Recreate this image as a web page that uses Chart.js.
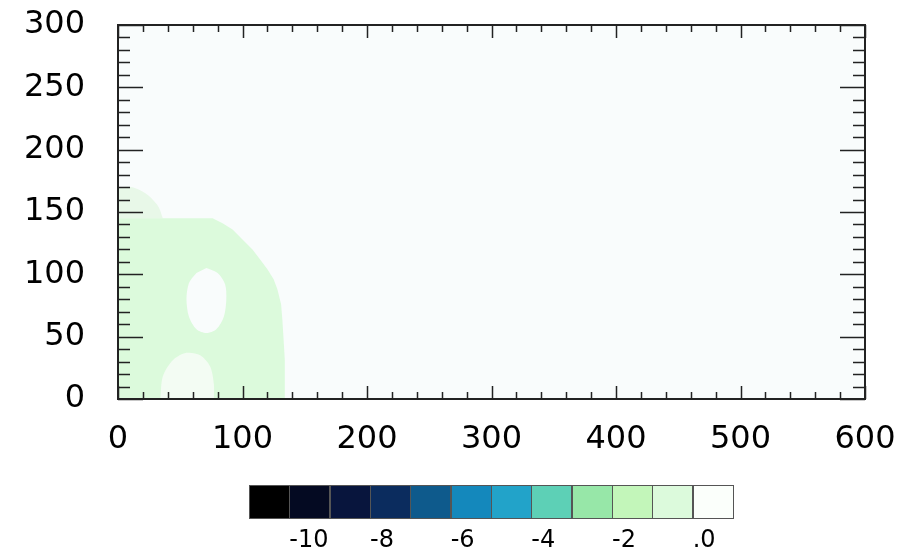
<!DOCTYPE html>
<html>
<head>
<meta charset="utf-8">
<script src="https://cdn.jsdelivr.net/npm/chart.js"></script>
<style>
    html, body { margin: 0; padding: 0; background: #ffffff; }
    #wrap { width: 911px; height: 555px; position: relative; }
</style>
</head>
<body>
<div id="wrap"><canvas id="campo"></canvas></div>
<script>
// Ejes
const xTicks = [0, 100, 200, 300, 400, 500, 600];
const yTicks = [0, 50, 100, 150, 200, 250, 300];

// Escala de colores (12 niveles) y etiquetas de la barra
const levelColors = ['#000000', '#040a22', '#08153d', '#0b2c5e', '#0e5a8c', '#1488bc',
                     '#22a3c9', '#5dd0b6', '#97e7a8', '#c3f6ba', '#dcfadc', '#fbfffb'];
const levelLabels = ['-10', '-8', '-6', '-4', '-2', '.0'];

// Región verde (nivel -1..0)
const regionX = [0, 0, 76, 84, 92, 100, 108, 114, 120, 125, 128, 131, 132, 133, 134, 134];
const regionY = [0, 145, 145, 141, 136, 128, 120, 112, 104, 96, 88, 76, 64, 48, 31, 0];

// Franja tenue sobre la región
const stripX = [0, 0, 10, 22, 32, 36];
const stripY = [145, 168, 170, 165, 155, 145];

// Huecos blancos dentro de la región
const holeX = [71, 80, 86, 87, 85, 79, 71, 63, 57, 55, 57, 63];
const holeY = [105, 101, 92, 80, 66, 56, 53, 56, 66, 80, 93, 101];
const lowHoleX = [34, 36, 44, 55, 66, 74, 77, 77];
const lowHoleY = [0, 18, 31, 37, 35, 26, 12, 0];

const plotBg = '#f9fcfc';

function toPoints(xs, ys) {
    return xs.map((x, i) => ({ x: x, y: ys[i] }));
}

function polygon(xs, ys, color, order, tension) {
    return {
        data: toPoints(xs, ys),
        showLine: true,
        fill: 'shape',
        backgroundColor: color,
        borderWidth: 0,
        borderColor: 'rgba(0,0,0,0)',
        pointRadius: 0,
        tension: tension,
        order: order
    };
}

// Fondo, marco, marcas interiores y barra de colores
const decoPlugin = {
    id: 'deco',
    beforeDraw(chart) {
        const ctx = chart.ctx;
        ctx.save();
        ctx.fillStyle = '#ffffff';
        ctx.fillRect(0, 0, chart.width, chart.height);
        const a = chart.chartArea;
        ctx.fillStyle = plotBg;
        ctx.fillRect(a.left, a.top, a.right - a.left, a.bottom - a.top);
        ctx.restore();
    },
    afterDatasetsDraw(chart) {
        const ctx = chart.ctx;
        const a = chart.chartArea;
        const xs = chart.scales.x;
        const ys = chart.scales.y;
        ctx.save();
        ctx.strokeStyle = '#222222';
        ctx.lineWidth = 1.5;
        ctx.beginPath();
        for (let v = 0; v <= 600; v += 20) {
            const px = Math.round(xs.getPixelForValue(v)) + 0.5;
            const len = v % 100 === 0 ? 13 : 7;
            ctx.moveTo(px, a.bottom); ctx.lineTo(px, a.bottom - len);
            ctx.moveTo(px, a.top); ctx.lineTo(px, a.top + len);
        }
        for (let v = 0; v <= 300; v += 10) {
            const py = Math.round(ys.getPixelForValue(v)) + 0.5;
            const len = v % 50 === 0 ? 25 : 12;
            ctx.moveTo(a.left, py); ctx.lineTo(a.left + len, py);
            ctx.moveTo(a.right, py); ctx.lineTo(a.right - len, py);
        }
        ctx.stroke();
        ctx.lineWidth = 2;
        ctx.strokeRect(a.left, a.top, a.right - a.left, a.bottom - a.top);
        ctx.restore();
    },
    afterDraw(chart) {
        const ctx = chart.ctx;
        const left = 249, right = 733, top = 485, bottom = 518;
        const w = (right - left) / levelColors.length;
        ctx.save();
        levelColors.forEach((c, i) => {
            ctx.fillStyle = c;
            ctx.fillRect(left + i * w, top, w, bottom - top);
        });
        ctx.strokeStyle = '#555555';
        ctx.lineWidth = 1;
        levelColors.forEach((c, i) => {
            ctx.strokeRect(Math.round(left + i * w) + 0.5, top + 0.5, Math.round(w), bottom - top);
        });
        ctx.fillStyle = '#000000';
        ctx.font = '24px "DejaVu Sans"';
        ctx.textAlign = 'left';
        ctx.textBaseline = 'middle';
        levelLabels.forEach((t, k) => {
            ctx.fillText(t, left + w * (2 * k + 1), 541);
        });
        ctx.restore();
    }
};

new Chart(document.getElementById('campo'), {
    type: 'scatter',
    data: {
        datasets: [
            polygon(stripX, stripY, '#e8f8e8', 4, 0.3),
            polygon(regionX, regionY, levelColors[10], 3, 0),
            polygon(holeX, holeY, plotBg, 2, 0.3),
            polygon(lowHoleX, lowHoleY, '#f3fcf3', 1, 0.3)
        ]
    },
    options: {
        responsive: true,
        maintainAspectRatio: false,
        animation: false,
        devicePixelRatio: 1,
        layout: { padding: { left: 0, right: 46, top: 25, bottom: 0 } },
        plugins: {
            legend: { display: false },
            tooltip: { enabled: false }
        },
        scales: {
            x: {
                type: 'linear',
                min: 0,
                max: 600,
                afterBuildTicks: scale => { scale.ticks = xTicks.map(v => ({ value: v })); },
                afterFit: scale => {
                    scale.height = 156;
                    scale.paddingLeft = 0;
                    scale.paddingRight = 0;
                },
                grid: { display: false, drawTicks: false, tickLength: 0 },
                border: { display: false },
                ticks: {
                    font: { family: 'DejaVu Sans', size: 32 },
                    color: '#000000',
                    padding: 21,
                    maxRotation: 0,
                    autoSkip: false
                }
            },
            y: {
                type: 'linear',
                min: 0,
                max: 300,
                afterBuildTicks: scale => { scale.ticks = yTicks.map(v => ({ value: v })); },
                afterFit: scale => {
                    scale.width = 118;
                    scale.paddingTop = 0;
                    scale.paddingBottom = 0;
                },
                grid: { display: false, drawTicks: false, tickLength: 0 },
                border: { display: false },
                ticks: {
                    font: { family: 'DejaVu Sans', size: 32 },
                    color: '#000000',
                    padding: 33,
                    autoSkip: false
                }
            }
        }
    },
    plugins: [decoPlugin]
});
</script>
</body>
</html>
